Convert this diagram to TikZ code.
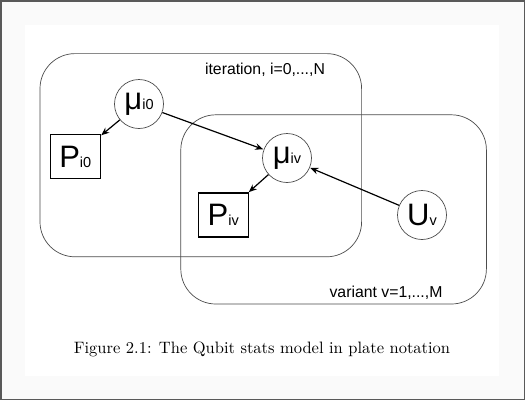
\documentclass[tikz,border=0pt]{standalone}
\usepackage{fontspec}
\setmainfont{Latin Modern Roman}
\newfontfamily\arialfont{Liberation Sans}
\newfontfamily\capfont{lmroman10-regular.otf}
\usetikzlibrary{arrows.meta}
\tikzset{
  plate/.style={draw=black!70, line width=0.7pt, rounded corners=35pt},
  randvar/.style={circle, draw=black!70, line width=0.7pt, minimum size=49pt, inner sep=0pt, font=\arialfont},
  obsvar/.style={rectangle, draw=black, line width=1.1pt, minimum width=50pt, minimum height=44pt, inner sep=0pt, font=\arialfont},
  edge/.style={-{Stealth[length=8pt,width=6.5pt]}, line width=1.2pt, shorten >=0.5pt},
  platelabel/.style={font=\arialfont\fontsize{15.8}{18}\selectfont, anchor=base, inner sep=0pt},
}
\newcommand{\mainsym}[1]{{\fontsize{31}{31}\selectfont #1}}
\newcommand{\subsym}[1]{{\fontsize{14.5}{14.5}\selectfont #1}}
\begin{document}
\begin{tikzpicture}[x=1pt,y=-1pt]
  \useasboundingbox (0,0) rectangle (525,400);
  \fill[black!2] (0,0) rectangle (525,400);
  \fill[white] (25,25) rectangle (499,376);
  \draw[black!65, line width=1.5pt] (0.75,0.75) rectangle (524.25,399.25);

  % plates
  \draw[plate] (40,53.6) rectangle (361.6,256.8);
  \draw[plate] (180.8,114.8) rectangle (486.4,304);
  \node[platelabel] (itlabel) at (265,74.3) {iteration, i=0,...,N};
  \node[platelabel] (varlabel) at (386,297) {variant v=1,...,M};

  % nodes
  \node[randvar] (mu0) at (139,104) {\mainsym{μ}\subsym{i0}};
  \node[randvar] (muv) at (287,158) {\mainsym{μ}\subsym{iv}};
  \node[randvar] (uv) at (422,215) {\mainsym{U}\subsym{v}};
  \node[obsvar] (p0) at (75.3,156.7) {\mainsym{P}\subsym{i0}};
  \node[obsvar] (pv) at (223.2,215) {\mainsym{P}\subsym{iv}};

  % edges
  \draw[edge] (mu0) -- (p0);
  \draw[edge] (mu0) -- (muv);
  \draw[edge] (muv) -- (pv);
  \draw[edge] (uv) -- (muv);

  % caption
  \node[anchor=base, inner sep=0pt, font=\capfont\fontsize{16.5}{19}\selectfont] (caption) at (262,353) {Figure 2.1: The Qubit stats model in plate notation};
\end{tikzpicture}
\end{document}
